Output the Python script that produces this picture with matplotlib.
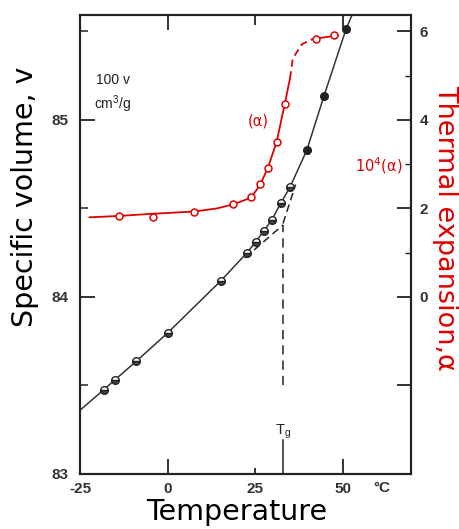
import matplotlib
matplotlib.use('Agg')
import matplotlib.pyplot as plt

# specific volume (100 v, cm3/g) against temperature (deg C)
vol_temp = [-18.3, -15.1, -8.9, 0.0, 15.1, 22.6, 25.1, 27.4, 29.7, 32.3, 34.9]
vol_value = [83.475, 83.531, 83.638, 83.797, 84.09, 84.249, 84.311, 84.373, 84.435, 84.531, 84.62]
vol_temp_hot = [39.7, 44.6, 50.9]
vol_value_hot = [84.83, 85.136, 85.514]
vol_curve_temp = [-24.6, -18.3, -15.1, -8.9, 0.0, 15.1, 22.6, 25.1, 27.4, 29.7,
                  32.3, 34.9, 39.7, 44.6, 50.9, 52.6]
vol_curve_value = [83.367, 83.475, 83.531, 83.638, 83.797, 84.09, 84.249, 84.311, 84.373,
                   84.435, 84.531, 84.62, 84.83, 85.136, 85.514, 85.593]

# extrapolated glass / rubber lines meeting at Tg
tg = 32.9
glass_ext_temp = [22.0, tg]
glass_ext_value = [84.22, 84.407]
rubber_ext_temp = [tg, 36.5]
rubber_ext_value = [84.415, 84.635]
tg_drop_value = [83.503, 84.407]
tg_mark_value = [83.0, 83.19]

# thermal expansion 10^4 alpha (right axis)
alpha_temp = [-14.0, -4.3, 7.4, 18.6, 23.7, 26.3, 28.6, 31.1, 33.4, 42.3, 47.4]
alpha_value = [1.84, 1.80, 1.93, 2.11, 2.25, 2.56, 2.92, 3.51, 4.36, 5.82, 5.91]
alpha_low_temp = [-22.3, -14.0, -4.3, 7.4, 14.0, 18.6, 23.7, 26.3, 28.6, 31.1, 33.4, 34.9]
alpha_low_value = [1.80, 1.83, 1.88, 1.93, 2.00, 2.09, 2.24, 2.52, 2.92, 3.51, 4.36, 4.94]
alpha_mid_temp = [34.9, 35.7, 38.3, 41.1]
alpha_mid_value = [4.94, 5.39, 5.71, 5.82]
alpha_high_temp = [41.1, 42.3, 48.6]
alpha_high_value = [5.82, 5.84, 5.91]

x_ticks = [-25, 0, 25, 50]
v_ticks = [83, 84, 85]
a_ticks = [-2, 0, 2, 4, 6]
a_tick_labels = ['', '0', '2', '4', '6']

ink = '#222222'
red = '#e00000'
tick_font = dict(family='Liberation Sans', weight='bold', size=11, color='#333333')

fig = plt.figure(figsize=(4.6, 5.29), dpi=100)
ax = fig.add_axes([0.174, 0.104, 0.7196, 0.8677])
ax2 = ax.twinx()

ax.set_xlim(-25, 69.43)
ax.set_ylim(83, 85.593)
ax2.set_ylim(-4, 4 * (85.593 - 84))

# volume curve and points
ax.plot(vol_curve_temp, vol_curve_value, color='#333333', lw=1.1, zorder=2)
ax.plot(glass_ext_temp, glass_ext_value, color=ink, lw=1.1, ls=(0, (5, 3)), zorder=2)
ax.plot(rubber_ext_temp, rubber_ext_value, color=ink, lw=1.1, ls=(0, (5, 3)), zorder=2)
ax.plot([tg, tg], tg_drop_value, color=ink, lw=1.1, ls=(0, (6, 4)), zorder=2)
ax.plot([tg, tg], tg_mark_value, color=ink, lw=1.1, zorder=2)
ax.plot(vol_temp, vol_value, 'o', ms=5.5, fillstyle='bottom', markerfacecolor='#444444',
        markerfacecoloralt='white', markeredgecolor=ink, mew=1.0, zorder=3)
ax.plot(vol_temp_hot, vol_value_hot, 'o', ms=5.5, color=ink, zorder=3)

# thermal expansion curve and points
ax2.plot(alpha_low_temp, alpha_low_value, color=red, lw=1.3, zorder=2)
ax2.plot(alpha_mid_temp, alpha_mid_value, color=red, lw=1.3, ls=(0, (4, 2.5)), zorder=2)
ax2.plot(alpha_high_temp, alpha_high_value, color=red, lw=1.3, zorder=2)
ax2.plot(alpha_temp, alpha_value, 'o', ms=5, markerfacecolor='white',
         markeredgecolor=red, mew=1.1, zorder=3)

# frame and ticks
for a in (ax, ax2):
    for s in a.spines.values():
        s.set_color(ink)
        s.set_linewidth(1.5)

ax.set_xticks(x_ticks)
ax.set_xticklabels([str(t) for t in x_ticks], fontdict=tick_font)
ax.set_yticks(v_ticks)
ax.set_yticklabels([str(t) for t in v_ticks], fontdict=tick_font)
ax.set_yticks([83.5, 84.5, 85.5], minor=True)
ax.tick_params(axis='x', which='major', direction='in', length=11, width=1.3,
               top=True, bottom=True, color=ink, pad=6)
ax.tick_params(axis='y', which='major', direction='in', length=11, width=1.3,
               left=True, right=False, color=ink, pad=8)
ax.tick_params(axis='y', which='minor', direction='in', length=5.5, width=1.1,
               left=True, right=False, color=ink)

ax2.set_yticks(a_ticks)
ax2.set_yticklabels(a_tick_labels, fontdict=tick_font)
ax2.set_yticks([1, 3, 5], minor=True)
ax2.tick_params(axis='y', which='major', direction='in', length=10, width=1.3,
                color=ink, pad=6)
ax2.tick_params(axis='y', which='minor', direction='in', length=4, width=1.0, color=ink)

# short tick at 25
xt = ax.xaxis.get_major_ticks()
xt[2].tick1line.set_markersize(4)
xt[2].tick2line.set_markersize(7)
xt[0].tick1line.set_visible(False)
xt[0].tick2line.set_visible(False)

# annotations
ax.text(-15.7, 85.226, '100 v', fontsize=10, family='Liberation Sans', color=ink,
        ha='center', va='center')
ax.text(-15.7, 85.09, 'cm$^\\mathregular{3}$/g', fontsize=10, family='Liberation Sans',
        color=ink, ha='center', va='center')
ax.text(25.7, 84.994, '(α)', fontsize=10.5, color=red, ha='center', va='center')
ax.text(60.3, 84.74, '10$^\\mathregular{4}$(α)', fontsize=10.5, color=red,
        ha='center', va='center')
ax.text(tg, 83.24, 'T$_\\mathregular{g}$', fontsize=10.5, family='Liberation Sans',
        color=ink, ha='center', va='center')
ax.text(61.1, 82.92, '°C', fontdict=tick_font, ha='center', va='center')

fig.text(25 / 460, 1 - 197 / 529, 'Specific volume, v', rotation=90, fontsize=20.5,
         color='black', ha='center', va='center')
fig.text(237 / 460, 1 - 512 / 529, 'Temperature', fontsize=20.5, color='black',
         ha='center', va='center')
fig.text(445 / 460, 1 - 228 / 529, 'Thermal expansion,α', rotation=-90, fontsize=19.5,
         color=red, ha='center', va='center')

fig.savefig('out.png', dpi=100)
